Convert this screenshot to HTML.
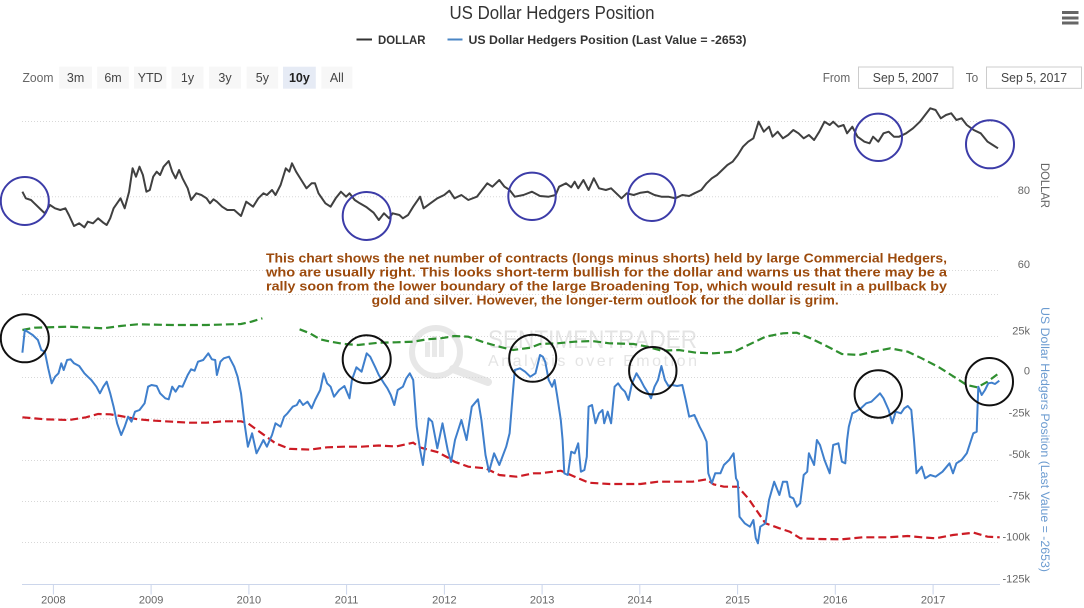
<!DOCTYPE html>
<html>
<head>
<meta charset="utf-8">
<style>
  html,body{margin:0;padding:0;background:#fff;}
  svg{display:block;}
  text{font-family:"Liberation Sans",Arial,sans-serif;}
</style>
</head>
<body>
<svg width="1084" height="608" viewBox="0 0 1084 608" xmlns="http://www.w3.org/2000/svg">
  <rect x="0" y="0" width="1084" height="608" fill="#ffffff"/>

  <!-- Title -->
  <text x="552" y="19" text-anchor="middle" font-size="18" fill="#333" textLength="205" lengthAdjust="spacingAndGlyphs">US Dollar Hedgers Position</text>

  <!-- Hamburger -->
  <rect x="1062" y="11" width="16.5" height="3" fill="#666"/>
  <rect x="1062" y="16.5" width="16.5" height="3" fill="#666"/>
  <rect x="1062" y="21.5" width="16.5" height="3" fill="#666"/>

  <!-- Legend -->
  <line x1="356.5" y1="39.5" x2="372" y2="39.5" stroke="#333" stroke-width="2"/>
  <text x="378" y="44" font-size="12" font-weight="bold" fill="#333" textLength="47.5" lengthAdjust="spacingAndGlyphs">DOLLAR</text>
  <line x1="447.5" y1="39.5" x2="462.5" y2="39.5" stroke="#4a86c5" stroke-width="2"/>
  <text x="468.5" y="44" font-size="12" font-weight="bold" fill="#333" textLength="278" lengthAdjust="spacingAndGlyphs">US Dollar Hedgers Position (Last Value = -2653)</text>

  <!-- Range selector -->
  <text x="22.5" y="82" font-size="12.5" fill="#666" textLength="31" lengthAdjust="spacingAndGlyphs">Zoom</text>
  <g font-size="12.5" fill="#444" text-anchor="middle">
    <rect x="59.2" y="66.7" width="32.8" height="22" fill="#f7f7f7"/>
    <text x="75.6" y="82">3m</text>
    <rect x="97.1" y="66.7" width="31.7" height="22" fill="#f7f7f7"/>
    <text x="113" y="82">6m</text>
    <rect x="134" y="66.7" width="32.3" height="22" fill="#f7f7f7"/>
    <text x="150.2" y="82">YTD</text>
    <rect x="171.5" y="66.7" width="32" height="22" fill="#f7f7f7"/>
    <text x="187.5" y="82">1y</text>
    <rect x="209" y="66.7" width="32" height="22" fill="#f7f7f7"/>
    <text x="225" y="82">3y</text>
    <rect x="246.6" y="66.7" width="31.6" height="22" fill="#f7f7f7"/>
    <text x="262.4" y="82">5y</text>
    <rect x="283" y="66.7" width="32.8" height="22" fill="#e6ebf5"/>
    <text x="299.4" y="82" font-weight="bold" fill="#222">10y</text>
    <rect x="321.3" y="66.7" width="31" height="22" fill="#f7f7f7"/>
    <text x="336.8" y="82">All</text>
  </g>

  <!-- Date inputs -->
  <text x="822.7" y="82" font-size="12.5" fill="#666" textLength="27.5" lengthAdjust="spacingAndGlyphs">From</text>
  <rect x="858.5" y="67" width="94.5" height="21.3" fill="#fff" stroke="#ccc" stroke-width="1"/>
  <text x="905.8" y="82" font-size="12.5" fill="#444" text-anchor="middle" textLength="66" lengthAdjust="spacingAndGlyphs">Sep 5, 2007</text>
  <text x="965.7" y="82" font-size="12.5" fill="#666" textLength="12.5" lengthAdjust="spacingAndGlyphs">To</text>
  <rect x="986.5" y="67" width="95" height="21.3" fill="#fff" stroke="#ccc" stroke-width="1"/>
  <text x="1034" y="82" font-size="12.5" fill="#444" text-anchor="middle" textLength="66" lengthAdjust="spacingAndGlyphs">Sep 5, 2017</text>

  <!-- Gridlines -->
  <g stroke="#d8d8d8" stroke-width="1" stroke-dasharray="1,2">
    <line x1="22" y1="121.5" x2="1000" y2="121.5"/>
    <line x1="22" y1="196.7" x2="1000" y2="196.7"/>
    <line x1="22" y1="270.5" x2="1000" y2="270.5"/>
    <line x1="22" y1="294.5" x2="1000" y2="294.5"/>
    <line x1="22" y1="336.5" x2="1000" y2="336.5"/>
    <line x1="22" y1="377.5" x2="1000" y2="377.5"/>
    <line x1="22" y1="418.7" x2="1000" y2="418.7"/>
    <line x1="22" y1="460.5" x2="1000" y2="460.5"/>
    <line x1="22" y1="501.5" x2="1000" y2="501.5"/>
    <line x1="22" y1="542.5" x2="1000" y2="542.5"/>
  </g>

  <!-- X axis -->
  <line x1="22" y1="584.5" x2="1000" y2="584.5" stroke="#ccd6eb" stroke-width="1"/>
  <g stroke="#ccd6eb" stroke-width="1">
    <line x1="53.4" y1="584.5" x2="53.4" y2="594.5"/>
    <line x1="151.1" y1="584.5" x2="151.1" y2="594.5"/>
    <line x1="248.9" y1="584.5" x2="248.9" y2="594.5"/>
    <line x1="346.6" y1="584.5" x2="346.6" y2="594.5"/>
    <line x1="444.4" y1="584.5" x2="444.4" y2="594.5"/>
    <line x1="542.1" y1="584.5" x2="542.1" y2="594.5"/>
    <line x1="639.8" y1="584.5" x2="639.8" y2="594.5"/>
    <line x1="737.6" y1="584.5" x2="737.6" y2="594.5"/>
    <line x1="835.3" y1="584.5" x2="835.3" y2="594.5"/>
    <line x1="933.1" y1="584.5" x2="933.1" y2="594.5"/>
  </g>
  <g font-size="11" fill="#666" text-anchor="middle">
    <text x="53.4" y="603.5">2008</text>
    <text x="151.1" y="603.5">2009</text>
    <text x="248.9" y="603.5">2010</text>
    <text x="346.6" y="603.5">2011</text>
    <text x="444.4" y="603.5">2012</text>
    <text x="542.1" y="603.5">2013</text>
    <text x="639.8" y="603.5">2014</text>
    <text x="737.6" y="603.5">2015</text>
    <text x="835.3" y="603.5">2016</text>
    <text x="933.1" y="603.5">2017</text>
  </g>

  <!-- Y axis labels -->
  <g font-size="11" fill="#666" text-anchor="end">
    <text x="1030" y="194">80</text>
    <text x="1030" y="268">60</text>
    <text x="1030" y="334.7">25k</text>
    <text x="1030" y="374.7">0</text>
    <text x="1030" y="416.7">-25k</text>
    <text x="1030" y="458">-50k</text>
    <text x="1030" y="499.7">-75k</text>
    <text x="1030" y="540.7">-100k</text>
    <text x="1030" y="582.3">-125k</text>
  </g>
  <text transform="translate(1045,185.5) rotate(90)" text-anchor="middle" dy="4" font-size="12" fill="#666" textLength="45" lengthAdjust="spacingAndGlyphs">DOLLAR</text>
  <text transform="translate(1045,439.5) rotate(90)" text-anchor="middle" dy="4" font-size="12" fill="#6b9bd0" textLength="265" lengthAdjust="spacingAndGlyphs">US Dollar Hedgers Position (Last Value = -2653)</text>

  <!-- Watermark -->
  <g opacity="0.55">
    <circle cx="436" cy="352" r="24" fill="none" stroke="#d4d4d4" stroke-width="6"/>
    <rect x="425" y="342" width="5" height="15" fill="#d8d8d8"/>
    <rect x="432" y="336" width="5" height="21" fill="#d8d8d8"/>
    <rect x="439" y="340" width="5" height="17" fill="#d8d8d8"/>
    <line x1="453" y1="369" x2="488" y2="382" stroke="#d4d4d4" stroke-width="8" stroke-linecap="round"/>
    <text x="488" y="348" font-size="25" fill="#cfcfcf" textLength="209" lengthAdjust="spacingAndGlyphs">SENTIMENTRADER</text>
    <text x="488" y="366" font-size="16" fill="#cfcfcf" textLength="209" lengthAdjust="spacing">Analysis over Emotion</text>
  </g>

  <!-- Annotation -->
  <g font-size="13" font-weight="bold" fill="#9c4a0c">
    <text x="266" y="262.5" textLength="681" lengthAdjust="spacingAndGlyphs">This chart shows the net number of contracts (longs minus shorts) held by large Commercial Hedgers,</text>
    <text x="266" y="276.5" textLength="681" lengthAdjust="spacingAndGlyphs">who are usually right. This looks short-term bullish for the dollar and warns us that there may be a</text>
    <text x="266" y="290.5" textLength="681" lengthAdjust="spacingAndGlyphs">rally soon from the lower boundary of the large Broadening Top, which would result in a pullback by</text>
    <text x="371.7" y="304.5" textLength="467" lengthAdjust="spacingAndGlyphs">gold and silver. However, the longer-term outlook for the dollar is grim.</text>
  </g>

  <!-- Dollar series -->
  <polyline fill="none" stroke="#404040" stroke-width="2" stroke-linejoin="round" points="
22.4,191.7 25.8,198.3 31,200 34.4,203.3 41.3,210 44.8,213.3 50,205 55,208.3 60.3,210 65.4,208.3 68.9,215 74,226 79.2,223.3 84.4,227.3 87.8,221.7 93,223.3 98.1,218.3 103.3,222.7 106.7,225 110.2,218.3 113.6,208.3 120.5,198.3 124.7,208.3 129.1,191.7 132.6,168.3 136,176.7 139.5,166.7 142.9,175 146.4,191.7 149.8,190 153.2,176.7 156.7,171.7 160.1,175 163.6,166.7 168.7,161 172.2,171.7 175.6,178.3 179.1,170 182.5,178.3 187.7,188.3 191.1,200 196.3,193.3 201.4,195 206.6,198.3 210,203.3 213.5,199.3 216.9,201.7 222.1,206.7 227.3,210 234.2,210 241,216 246.2,201.7 253.1,206.7 258.3,198.3 263.4,193.3 266.9,195 272,190 275.5,195 280.6,185 285.8,168.3 289.3,171.7 292,163.3 296.1,171.7 301.3,180 306.5,188.3 311.6,183.3 315,183.3 318.5,193.3 325.4,203.3 330.6,206.7 335.7,198.3 340.9,191.7 346.1,196.7 349.5,193.3 354.7,200 359.8,203.3 366.7,207.3 373.6,212.7 378.8,220 384,213.3 389.1,218.3 392.6,213.3 399.4,215 402.9,218.3 408.1,215 413.2,206.7 420.1,196.7 423.6,208.3 430.4,203.3 437.3,198.3 444.2,195 449.4,190.7 454.5,198.3 461.4,195 468.3,200 476.9,196.7 482.1,190 487.3,183.3 492.4,186.7 499.3,180 504.5,186.7 509.6,190 514.8,196.7 523.4,195 532,191.7 540,196 548.7,196.7 555.6,195 559.1,186.7 566,183.3 571.2,187.3 574.7,181.7 578.2,188.3 583.4,180 588.6,190 593.8,178.3 599,188.3 605.9,190 611.1,188.3 616.3,193.3 621.5,198.3 626.7,193.3 633.7,195 640.6,192.7 647.6,191.7 654.5,195 661.4,196.7 668.4,196.7 675.3,198.3 682.3,195 689.2,196 694.4,193.3 701.3,190 706.6,183.3 711.8,178.3 717,175 722.2,170 727.4,165 732.6,161.7 737.8,155 743,146.7 748.2,141.7 753.4,138.3 758.6,121.7 763.8,131.7 769,126.7 772.5,136.7 777.7,131.7 782.9,138.3 788.1,135 793.3,130 798.5,133.3 803.7,138.3 808.9,135 814.1,140 819.3,131.7 824.5,121.7 829.7,125 833.2,121.7 838.4,126.7 843.6,125 847.1,133.3 852.3,126.7 857.5,136.7 864.4,141.7 869.6,143.3 873.1,136.7 878.3,141.7 883.5,133.3 888.7,131.7 893.9,136.7 899.1,136.7 906.1,133.3 913,128.3 919.9,121.7 925.1,115 930.3,108.3 935.6,110 940.8,118.3 946,115 951.2,113.3 956.4,120 961.6,118.3 966.8,125 973.7,130 980.7,133.3 987.6,141.7 992.8,145 998,148.3"/>

  <!-- Top panel circles -->
  <g fill="none" stroke="#3c3ca8" stroke-width="2">
    <circle cx="24.8" cy="201" r="24"/>
    <circle cx="366.7" cy="216" r="24"/>
    <circle cx="532" cy="196.3" r="23.7"/>
    <circle cx="651.7" cy="197.3" r="23.7"/>
    <circle cx="878.3" cy="137.3" r="23.7"/>
    <circle cx="990" cy="144.3" r="24"/>
  </g>

  <!-- Green dashed upper band -->
  <g fill="none" stroke="#2f8f2f" stroke-width="2.2" stroke-dasharray="8,4">
    <polyline points="22.4,330 34.4,327.7 68.9,326.7 103.3,328.3 120.5,326 137.7,324.3 172.2,325 206.6,325 241,324 251.4,321.7 262.4,318.3"/>
    <polyline points="299.6,329.3 309.9,333.3 320.2,339.3 330.6,341.7 344.4,344 358.1,345 378.8,342.7 396,342.3 413.2,341.7 427,339.3 440.8,338.3 454.5,336 468.3,336.7 482.1,341.7 499.3,346.7 513.1,350 530.3,347.7 540,344 557.3,343.3 574.7,341.7 592,341 609.4,343.3 633.7,344 647.6,346.7 661.4,350.7 678.8,350 696.1,352.7 713.5,353.3 734.3,351.7 748.2,345 765.5,336.7 782.9,333.3 796.8,332.7 810.6,338.3 824.5,345 841.9,354 859.2,355 873.1,351.7 890.4,348.3 907.8,351.7 921.7,358.3 939,367.3 956.4,378.3 966.8,385 977.2,387.3 987.6,381.7 999.5,372.7"/>
  </g>

  <!-- Red dashed lower band -->
  <polyline fill="none" stroke="#cc1b24" stroke-width="2.2" stroke-dasharray="8,4" points="22.4,417.3 44.8,419.3 68.9,420 86.1,417.3 98.1,414 110.2,414.3 120.5,416 137.7,419.3 155,420.7 172.2,421.7 189.4,422.7 206.6,422.7 223.8,421.3 241,421.3 247.9,423.3 261.7,433.3 275.5,443.3 289.3,448.8 309.9,449.6 327.1,447.3 344.4,446.7 361.6,446.7 378.8,445.5 396,446.5 413.2,442.7 420.1,447.5 437.3,452 447.7,457.5 454.5,461.7 468.3,466.7 485.5,468.3 499.3,475 516.5,476.7 533.7,473.3 540,473.3 560.8,470.7 574.7,476.7 588.6,482.7 609.4,484 640.6,484 658,481.7 678.8,481.7 692.7,481.7 706.6,479.3 713.5,484.3 723.9,486.7 737.8,486.7 748.2,498.3 765.5,523.3 779.4,528.3 789.8,531.7 800.2,538.3 817.6,539 841.9,539.3 862.7,537.3 887,537.3 907.8,536 921.7,537.3 935.6,538.3 952.9,535 973.7,532.7 987.6,536.7 999.7,537.3"/>

  <!-- Blue hedgers series -->
  <polyline fill="none" stroke="#3f7fcc" stroke-width="2" stroke-linejoin="round" points="
22.4,352.7 24.8,330 27.5,331.7 32.7,335 37.9,340 41.3,350 44.8,351.7 48.2,368.3 51.7,383.3 55.1,376.7 58.5,373.3 61.3,363.3 63.7,370 67.1,360 70.6,359.3 74,363.3 79.2,366 84.4,373.3 87.8,376.7 91.3,380 96.4,386.7 99.9,393.3 103.3,386.7 106.7,381.7 110.2,393.3 113.6,406.7 117.1,423.3 121.2,435 124.7,426.7 128.1,416.7 131.5,421.7 135,411.7 139.5,410 144.6,403.3 148.1,386.7 151.5,385 156.7,386 160.1,393.3 165.3,398.3 168.7,399.3 172.2,386.7 175.6,391.7 179.1,386 182.5,386.7 187.7,375 191.1,369.3 194.6,370.7 198,361.7 203.2,360 208.3,353.3 211.8,359.3 215.2,360 216.9,375 220.4,361.7 223.8,358.3 229,356.7 234.2,366.7 237.6,376.7 241,393.3 244.5,423.3 247.9,446.7 252.1,433.3 256.5,453.3 260,446.7 263.4,440 266.9,446.7 272,435 275.5,423.3 280.6,426.7 284.1,416.7 287.5,413.3 292.7,406.7 296.8,405 299.6,400 303,405 307.5,401.7 311.6,408.3 315.1,400 320.2,390 323.7,373.3 327.1,383.3 330.6,386.7 334,396.7 339.2,390 344.4,386 349.5,398.3 351.9,380 356.4,367.3 361.6,371.7 366.7,353.3 370.2,356.7 375.3,367.3 378.8,375 384,383.3 387.4,388.3 390.8,395 394.3,405 397.7,390 402.9,386.7 406.3,378.3 409.8,373.3 413.2,380 416.7,426.7 420.1,450 422.9,465 428.7,418.3 432.2,421.7 437.3,448.3 442.5,423.3 447.7,450 451.1,462 455,440 461.4,420 466.6,440 471.8,406.7 478,399.3 481.4,420 485.5,455 489,471.7 494.1,453.3 499.3,465 506.2,446.7 509.6,433.3 513.1,390 514.8,370 520,368.3 525.1,371.7 530.3,376.7 535.5,373.3 540,355 542.8,356.7 545.2,361.7 548.7,380 552.1,386.7 554.6,380 557.3,396.7 560.8,420 562.6,440 564.3,473.3 567.8,475 571.2,451.7 574.7,453.3 578.2,443.3 580.9,471.7 584.4,470 586.8,456.7 588.6,406.7 592,405 595.5,423.3 599,413.3 602.5,410 604.2,423.3 607.7,411.7 611.1,423.3 614.6,386.7 618.1,383.3 621.5,388.3 625,391.7 628.5,400 632,383.3 636.5,373.3 640.6,380 644.1,386.7 648.3,393.3 651,398.3 654.5,386.7 658,380 661.4,366 664.9,380 668.4,386 672,385 677.1,386 682.3,385 685.7,400 689.2,416.7 694.4,415 699.6,426.7 703.1,433.3 706.6,441.7 708.3,473.3 711.8,483.3 715.2,473.3 720.4,473.3 723.9,465 729.1,460 733.6,453.3 736,478.3 737.8,481.7 739.5,516.7 744.7,523.3 749.9,526.7 753.4,520 755.8,538.3 757.9,543.3 760.3,526.7 765.5,523.3 769,500 774.2,481.7 779.4,495 782.9,481.7 787,481.7 789.8,496.7 793.3,498.3 796.8,506.7 800.2,503.3 803.7,475 807.2,471.7 808.9,453.3 814.1,465 816.9,440 820,445 824.5,460 829.7,473.3 833.2,445 838.4,443.3 841.9,461.7 845.3,463.3 847.1,440 848.8,426.7 852.3,413.3 855.7,411.7 860.9,408.3 866.2,403.3 871.4,401.7 876.6,396.7 880,393.3 883.5,398.3 888.7,410 892.2,423.3 895.7,411.7 900.9,413.3 904.3,408.3 907.8,406 911.3,410 914,440 916.5,473.3 921.7,466.7 925.1,478.3 930.3,475 935.6,476.7 942.5,471.7 949.5,463.3 953,473.3 956.4,463.3 961.6,460 966.8,453.3 973.3,433.3 976.7,431.7 978.3,386.7 981.7,395 985,390 988.3,383.3 991.7,382.7 995,384 999.3,380.7"/>

  <!-- Lower panel circles -->
  <g fill="none" stroke="#111" stroke-width="2">
    <circle cx="24.8" cy="338.3" r="24"/>
    <circle cx="366.7" cy="359.3" r="24"/>
    <circle cx="532.7" cy="358.3" r="23.5"/>
    <circle cx="652.8" cy="370.7" r="23.7"/>
    <circle cx="878.3" cy="394" r="23.7"/>
    <circle cx="989.3" cy="381.7" r="23.7"/>
  </g>
</svg>
</body>
</html>
